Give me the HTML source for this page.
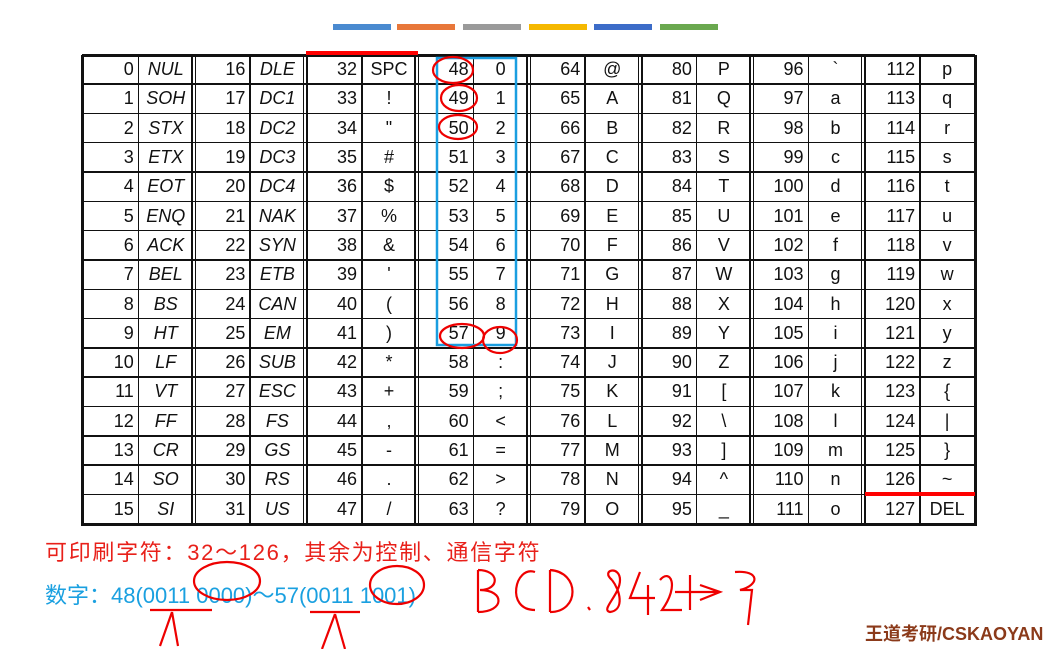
<!DOCTYPE html>
<html><head><meta charset="utf-8"><style>
body{margin:0;width:1062px;height:649px;background:#fff;position:relative;overflow:hidden;font-family:"Liberation Sans","Noto Sans CJK SC",sans-serif}
.c{position:absolute;box-sizing:border-box;font-size:18px;color:#111;line-height:29px;white-space:nowrap}
.n{text-align:right;padding-right:4px}
.ch{text-align:center}
.it{font-style:italic}
.bar{position:absolute;top:24px;height:6px;width:58px}
.ln{position:absolute;background:#111}
</style></head><body>
<div class="bar" style="left:333px;background:#4a8ad0"></div>
<div class="bar" style="left:397px;background:#e8773a"></div>
<div class="bar" style="left:463px;background:#9a9a9a"></div>
<div class="bar" style="left:529px;background:#f5b800"></div>
<div class="bar" style="left:594px;background:#3c6cc8"></div>
<div class="bar" style="left:660px;background:#6aa84f"></div>
<div id="tbl"></div>
<div class="c" style="left:45px;top:538px;font-size:22px;letter-spacing:1.7px;color:#e8201a;line-height:30px">可印刷字符：32～126，其余为控制、通信字符</div>
<div class="c" style="left:45px;top:581px;font-size:22px;color:#1aa0e0;line-height:30px">数字：48(0011 0000)～57(0011 1001)</div>
<div class="c" style="left:865px;top:620px;font-size:18px;color:#8b3a1a;font-weight:bold">王道考研/CSKAOYAN</div>
<svg width="1062" height="649" style="position:absolute;left:0;top:0">
<rect x="306" y="51" width="112" height="4" fill="#f00"/>
<rect x="865" y="492" width="110" height="4" fill="#f00"/>
<rect x="437" y="58" width="79" height="287" fill="none" stroke="#1a9ee0" stroke-width="2.5"/>
<g fill="none" stroke="#e00" stroke-width="2.2">
<ellipse cx="453" cy="70" rx="20" ry="13"/><ellipse cx="459" cy="98" rx="18" ry="13"/><ellipse cx="458" cy="127" rx="19" ry="12"/>
<ellipse cx="462" cy="336" rx="22" ry="12"/><ellipse cx="500" cy="340" rx="17" ry="13"/>
<ellipse cx="227" cy="581" rx="33" ry="19"/><ellipse cx="397" cy="585" rx="27" ry="19"/>
<path d="M150 610 L212 610 M172 612 L160 646 M172 612 L178 646 M310 612 L360 612 M335 614 L322 649 M335 614 L345 649"/>
<path d="M478 570 L478 612 M478 570 C500 570 500 590 480 590 C505 590 505 612 478 612"/>
<path d="M535 572 C515 565 505 610 535 610"/>
<path d="M550 570 L550 612 M550 570 C580 572 580 612 550 612"/>
<path d="M588 607 L590 610"/>
<path d="M612 580 C600 570 620 565 620 580 C620 595 600 610 610 612 C625 610 620 590 612 580"/>
<path d="M640 572 L630 598 L655 598 M648 585 L648 615 M660 580 C670 568 680 585 662 610 L682 610 M690 575 L690 610 M675 592 L720 592 M700 585 L720 592 L700 600 M735 572 C760 570 760 585 740 590 L752 590 L748 625"/>
</g>
</svg>
<script>
const codes=[...Array(128).keys()];
const ctrlNames=["NUL","SOH","STX","ETX","EOT","ENQ","ACK","BEL","BS","HT","LF","VT","FF","CR","SO","SI","DLE","DC1","DC2","DC3","DC4","NAK","SYN","ETB","CAN","EM","SUB","ESC","FS","GS","RS","US"];
const T=document.getElementById('tbl');
const L=82,R=975,TOP=55,BOT=524,GW=(R-L)/8,RH=(BOT-TOP)/16;
function add(cls,x,y,w,h,txt,name){const d=document.createElement('div');d.className=cls;d.style.left=x+'px';d.style.top=y+'px';d.style.width=w+'px';d.style.height=h+'px';if(txt!=null)d.textContent=txt;


T.appendChild(d);return d;}
codes.forEach(k=>{const g=Math.floor(k/16),r=k%16;const x=L+g*GW,y=TOP+r*RH;
 add('c n',x,y,GW/2,RH,String(k),'code-'+k);
 let ch=k<32?ctrlNames[k]:k==32?'SPC':k==127?'DEL':String.fromCharCode(k);
 add('c ch'+(k<32?' it':''),x+GW/2,y,GW/2,RH,ch,'char-'+k);});
for(let r=0;r<=16;r++){const y=TOP+r*RH;add('ln',L,y-1,R-L,(r==0||r==16)?3:1.5,null,'row-line');}
for(let g=0;g<=8;g++){const x=L+g*GW;
 if(g==0||g==8)add('ln',x-1,TOP,2.5,BOT-TOP+2,null,'col-line');
 else{add('ln',x-2.5,TOP,1.5,BOT-TOP,null,'col-line');add('ln',x+1,TOP,1.5,BOT-TOP,null,'col-line');}
 if(g<8)add('ln',x+GW/2,TOP,1.5,BOT-TOP,null,'col-line');}
</script>
</body></html>
